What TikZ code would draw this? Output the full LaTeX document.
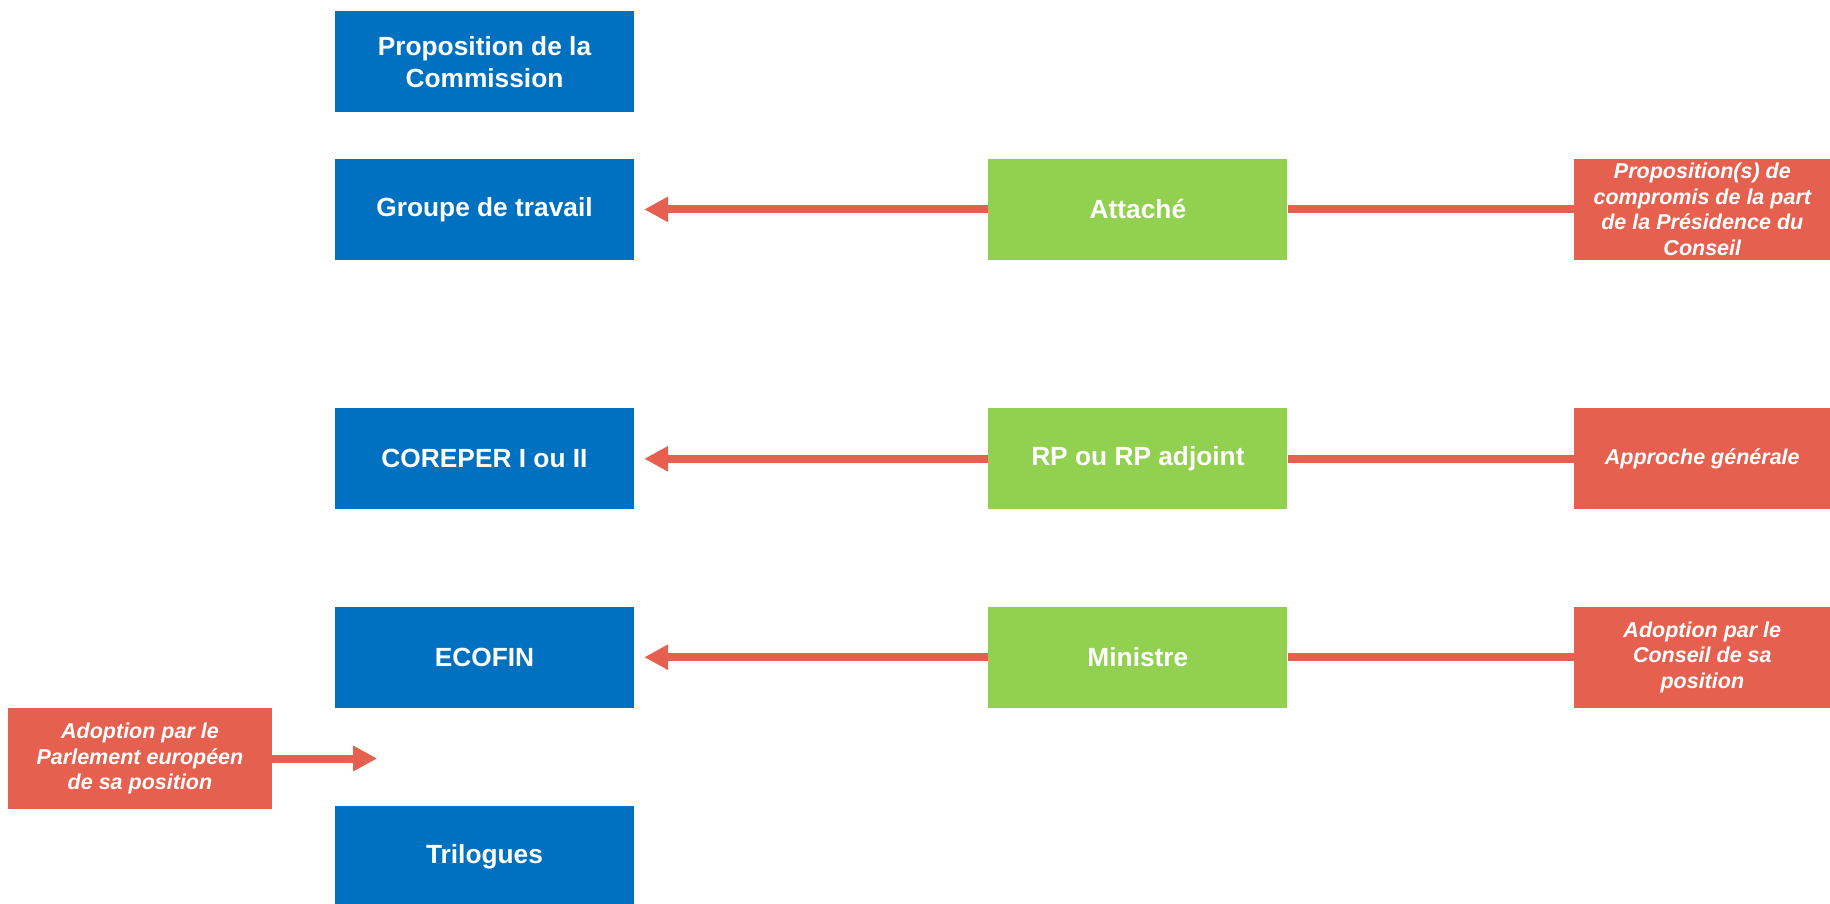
\documentclass[tikz,border=0pt]{standalone}
\usepackage{fontspec}
\setmainfont{Liberation Sans}
\usepackage{xcolor}
\usetikzlibrary{arrows.meta,positioning}
\definecolor{bleu}{HTML}{0070C0}
\definecolor{vert}{HTML}{92D050}
\definecolor{rouge}{HTML}{E5604F}
\tikzset{
  boite/.style={rectangle, minimum width=299pt, minimum height=101pt, inner sep=0pt, text=white, align=center, font=\fontsize{26.3}{32.5}\selectfont\bfseries},
  bleue/.style={boite, fill=bleu},
  verte/.style={boite, fill=vert},
  etape/.style={rectangle, fill=rouge, minimum height=101pt, inner sep=0pt, text=white, align=center, font=\fontsize{21.5}{25.5}\selectfont\bfseries\itshape},
  trait/.style={draw=rouge, line width=8pt},
  fleche/.style={trait, -{Triangle[length=24pt,width=24pt]}},
}

\begin{document}
\begin{tikzpicture}[x=1pt,y=-1pt]
\useasboundingbox (0,0) rectangle (1830,904);
% colonne Conseil
\node[bleue] (prop) at (484.5,62) {Proposition de la\\Commission};
\node[bleue, below=46pt of prop] (gt) {Groupe de travail};
\node[bleue, below=148pt of gt] (coreper) {COREPER I ou II};
\node[bleue, below=97pt of coreper] (ecofin) {ECOFIN};
\node[bleue, below=98pt of ecofin] (tril) {Trilogues};
% representants
\node[verte, right=354pt of gt] (att) {Attach\'e};
\node[verte, right=354pt of coreper] (rp) {RP ou RP adjoint};
\node[verte, right=354pt of ecofin] (min) {Ministre};
% etapes
\node[etape, minimum width=257pt, right=286pt of att] (compr) {Proposition(s) de\\compromis de la part\\de la Pr\'esidence du\\Conseil};
\node[etape, minimum width=257pt, right=286pt of rp] (appr) {Approche g\'en\'erale};
\node[etape, minimum width=257pt, right=286pt of min] (adc) {Adoption par le\\Conseil de sa\\position};
\node[etape, minimum width=264pt] (adp) at (140,758.5) {Adoption par le\\Parlement europ\'een\\de sa position};
\coordinate[right=105pt of adp.east] (pointe);
% liaisons
\draw[trait] (compr) -- (att);
\draw[fleche, shorten >=10pt] (att) -- (gt);
\draw[trait] (appr) -- (rp);
\draw[fleche, shorten >=10pt] (rp) -- (coreper);
\draw[trait] (adc) -- (min);
\draw[fleche, shorten >=10pt] (min) -- (ecofin);
\draw[fleche] (adp) -- (pointe);
\end{tikzpicture}
\end{document}
